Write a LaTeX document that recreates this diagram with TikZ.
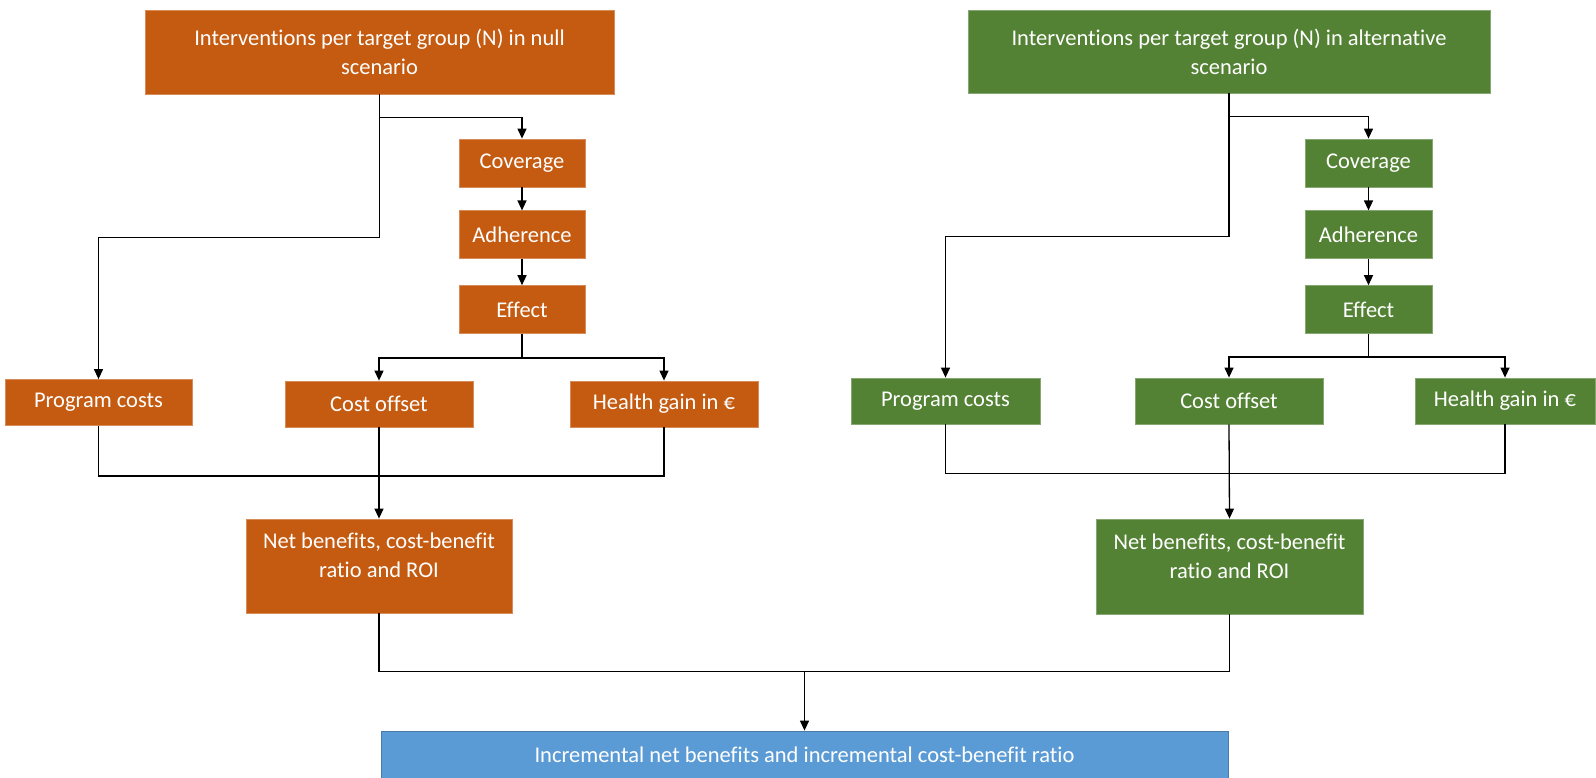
\documentclass[tikz,border=0pt]{standalone}
\usepackage{fontspec}
\setmainfont{Carlito}[Ligatures=NoCommon]
\usepackage{tikz}
\usetikzlibrary{positioning,arrows.meta}

\definecolor{nullorange}{HTML}{C55A11}
\definecolor{altgreen}{HTML}{548235}
\definecolor{incblue}{HTML}{5B9BD5}

\begin{document}
\begin{tikzpicture}[x=1pt, y=-1pt,
  box/.style={line width=0.8pt, text=white, inner sep=0pt, align=center,
              font=\fontsize{22.5}{29}\selectfont},
  nbox/.style={box, fill=nullorange, draw=nullorange!70!white},
  gbox/.style={box, fill=altgreen, draw=altgreen!70!white},
  ibox/.style={box, fill=incblue, draw=incblue!80!black},
  stepbox/.style={minimum width=126pt, minimum height=48pt},
  outbox/.style={minimum width=188pt, minimum height=46pt},
  netbox/.style={text depth=21pt},
  arr/.style={-{Triangle[length=10pt, width=9pt]}, line width=1.3pt},
  bus/.style={line width=1.3pt}
]
\useasboundingbox (0,0) rectangle (1596,778);

%% --- Null scenario (left) ---
\node[nbox, minimum width=469pt, minimum height=84pt] (ntop) at (379.5,52)
  {Interventions per target group (N) in null\\scenario};
\node[nbox, stepbox] (ncov) at (522,163) {Coverage};
\node[nbox, stepbox, below=23pt of ncov] (nadh) {Adherence};
\node[nbox, stepbox, below=26pt of nadh] (neff) {Effect};
\node[nbox, outbox, minimum width=187pt] (nprog) at (98.5,402.5) {Program costs};
\node[nbox, outbox] (noff) at (379,404) {Cost offset};
\node[nbox, outbox] (nhealth) at (664,404) {Health gain in €};
\node[nbox, netbox, minimum width=266pt, minimum height=94pt] (nnet) at (379,566)
  {Net benefits, cost-benefit\\ratio and ROI};

\draw[arr] (ntop.south) -- ++(0,23) -| (ncov.north);
\draw[arr] (ntop.south) -- ++(0,143) -| (nprog.north);
\draw[arr] (ncov) -- (nadh);
\draw[arr] (nadh) -- (neff);
\draw[arr] (neff.south) -- ++(0,24) -| (noff.north);
\draw[arr] (neff.south) -- ++(0,24) -| (nhealth.north);
\draw[bus] (nprog.south) -- ++(0,50) -| (nhealth.south);
\draw[arr] (noff) -- (nnet);

%% --- Alternative scenario (right) ---
\node[gbox, minimum width=522pt, minimum height=83pt] (gtop) at (1229,51.5)
  {Interventions per target group (N) in alternative\\scenario};
\node[gbox, stepbox, minimum width=127pt] (gcov) at (1368.5,163) {Coverage};
\node[gbox, stepbox, minimum width=127pt, below=23pt of gcov] (gadh) {Adherence};
\node[gbox, stepbox, minimum width=127pt, below=26pt of gadh] (geff) {Effect};
\node[gbox, outbox, minimum width=189pt] (gprog) at (945.5,401) {Program costs};
\node[gbox, outbox] (goff) at (1229,401) {Cost offset};
\node[gbox, outbox, minimum width=180pt] (ghealth) at (1505,401) {Health gain in €};
\node[gbox, netbox, minimum width=267pt, minimum height=95pt] (gnet) at (1229.5,566.5)
  {Net benefits, cost-benefit\\ratio and ROI};

\draw[arr] (gtop.south) -- ++(0,23) -| (gcov.north);
\draw[arr] (gtop.south) -- ++(0,143) -| (gprog.north);
\draw[arr] (gcov) -- (gadh);
\draw[arr] (gadh) -- (geff);
\draw[arr] (geff.south) -- ++(0,23) -| (goff.north);
\draw[arr] (geff.south) -- ++(0,23) -| (ghealth.north);
\draw[bus] (gprog.south) -- ++(0,49) -| (ghealth.south);
\draw[arr] (goff.south) -- (gnet.north);

%% --- Incremental result ---
\node[ibox, minimum width=847pt, minimum height=47pt] (inc) at (804.5,754.5)
  {Incremental net benefits and incremental cost-benefit ratio};
\draw[bus] (nnet.south) -- ++(0,58) coordinate (jn) -| (gnet.south);
\draw[arr] (jn -| inc.north) -- (inc.north);
\end{tikzpicture}
\end{document}
